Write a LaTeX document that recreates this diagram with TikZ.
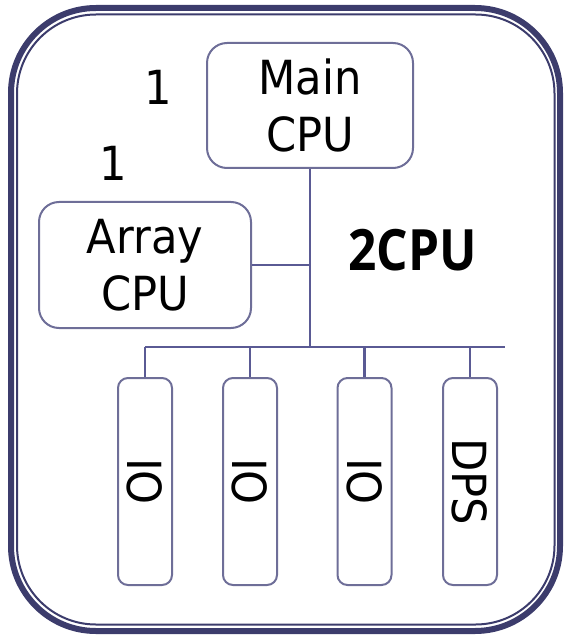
\documentclass[tikz,border=0pt]{standalone}
\usepackage{fontspec}
\newfontfamily\labelfont[FakeStretch=0.92]{DejaVu Sans}
\newfontfamily\headfont[FakeStretch=0.87]{Open Sans}
\definecolor{frame}{HTML}{3C3C6C}
\definecolor{boxline}{HTML}{6E6E98}
\definecolor{wire}{HTML}{5A5A94}
\begin{document}
\begin{tikzpicture}[x=1pt,y=1pt,
  txt/.style={font=\labelfont\fontsize{47}{57}\selectfont, text=black, align=center, inner sep=0pt},
  cpubox/.style={txt, draw=boxline, line width=2pt, rounded corners=20pt},
  iobox/.style={txt, draw=boxline, line width=2pt, rounded corners=10pt,
    minimum width=207pt, minimum height=54pt, rotate=-90},
  wireline/.style={draw=wire, line width=2.2pt}]
\useasboundingbox (0,0) rectangle (567,-636);
% double frame around the machine
\draw[frame, line width=6pt, rounded corners=85pt] (11,-8) rectangle (560,-631);
\draw[frame, line width=2pt, rounded corners=79pt] (17,-14.5) rectangle (554.5,-624.5);
% processors
\node[cpubox, minimum width=206pt, minimum height=125pt] (main) at (310,-105.5) {Main\\CPU};
\node[cpubox, minimum width=212pt, minimum height=126pt] (array) at (145,-265) {Array\\CPU};
% channel units
\node[iobox] (io1) at (145,-481.5) {IO};
\node[iobox] (io2) at (250,-481.5) {IO};
\node[iobox] (io3) at (364.5,-481.5) {IO};
\node[iobox] (dps) at (470,-481.5) {DPS};
% labels
\node[txt, anchor=base] (n1) at (158.5,-105) {1};
\node[txt, anchor=base] (n2) at (113,-181) {1};
\node[font=\headfont\bfseries\fontsize{57}{60}\selectfont, inner sep=0pt, anchor=base west] (two) at (348,-270) {2CPU};
% bus
\coordinate (busL) at (145,-347);
\coordinate (busR) at (505,-347);
\draw[wireline] (main.south) -- (main.south |- busL);
\draw[wireline] (array.east) -- (array.east -| main.south);
\draw[wireline] (busL) -- (busR);
\draw[wireline] (io1.west) -- (io1.west |- busL);
\draw[wireline] (io2.west) -- (io2.west |- busL);
\draw[wireline] (io3.west) -- (io3.west |- busL);
\draw[wireline] (dps.west) -- (dps.west |- busL);
\end{tikzpicture}
\end{document}
